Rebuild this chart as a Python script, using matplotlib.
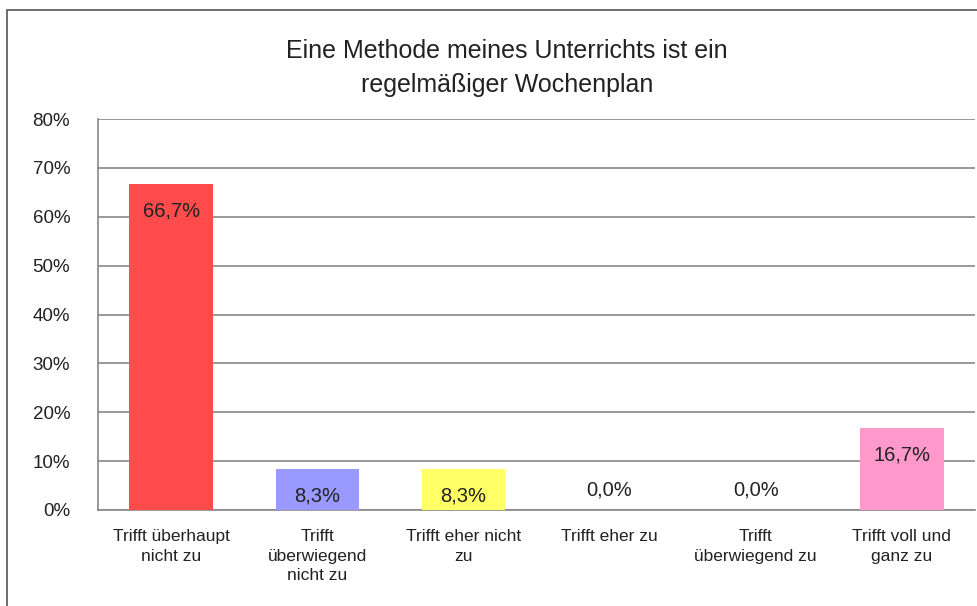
import matplotlib
matplotlib.use('Agg')
import matplotlib.pyplot as plt
from matplotlib.patches import Rectangle

categories = ['Trifft überhaupt\nnicht zu', 'Trifft\nüberwiegend\nnicht zu', 'Trifft eher nicht\nzu',
              'Trifft eher zu', 'Trifft\nüberwiegend zu', 'Trifft voll und\nganz zu']
values = [66.7, 8.3, 8.3, 0.0, 0.0, 16.7]
labels = ['66,7%', '8,3%', '8,3%', '0,0%', '0,0%', '16,7%']
colors = ['#FF4B4B', '#9999FF', '#FFFF66', '#FFFFFF', '#FFFFFF', '#FF99CC']
yticks = [0, 10, 20, 30, 40, 50, 60, 70, 80]
title = 'Eine Methode meines Unterrichts ist ein\nregelmäßiger Wochenplan'

plt.rcParams['font.family'] = ['Liberation Sans', 'DejaVu Sans']

W, H = 978, 606
fig = plt.figure(figsize=(W / 100, H / 100), dpi=100)
fig.patch.set_facecolor('white')

# outer frame of the chart object
fig.patches.append(Rectangle((7 / W, -0.1), 1.2, (H - 10) / H + 0.1, transform=fig.transFigure,
                             fill=False, edgecolor='#555555', linewidth=1.2))

ax = fig.add_axes([98 / W, (H - 510) / H, (975 - 98) / W, (510 - 119) / H])
x = range(len(values))
ax.bar(x, values, width=0.57, color=colors, zorder=3)
ax.set_xlim(-0.5, len(values) - 0.5)
ax.set_ylim(0, 80)
ax.set_yticks(yticks)
ax.set_yticklabels([f'{t}%' for t in yticks], fontsize=13.5, color='#222222')
ax.yaxis.grid(True, color='#888888', linewidth=1.2, zorder=0)
ax.set_xticks(list(x))
ax.set_xticklabels(categories, fontsize=12.5, color='#222222', linespacing=1.35)
ax.tick_params(axis='both', length=0)
ax.tick_params(axis='x', pad=14)
ax.tick_params(axis='y', pad=20)
for s in ['top', 'right']:
    ax.spines[s].set_visible(False)
for s in ['left', 'bottom']:
    ax.spines[s].set_color('#888888')
    ax.spines[s].set_linewidth(1.2)

for i, (v, lab) in enumerate(zip(values, labels)):
    off = -27 if v > 0 else 20
    ax.annotate(lab, xy=(i, v), xytext=(0, off), textcoords='offset pixels',
                ha='center', va='center', fontsize=14.5, color='#222222', zorder=4)

fig.text(507 / W, (H - 68) / H, title, ha='center', va='center',
         fontsize=18, color='#222222', linespacing=1.5)

fig.savefig('out.png', dpi=100)
